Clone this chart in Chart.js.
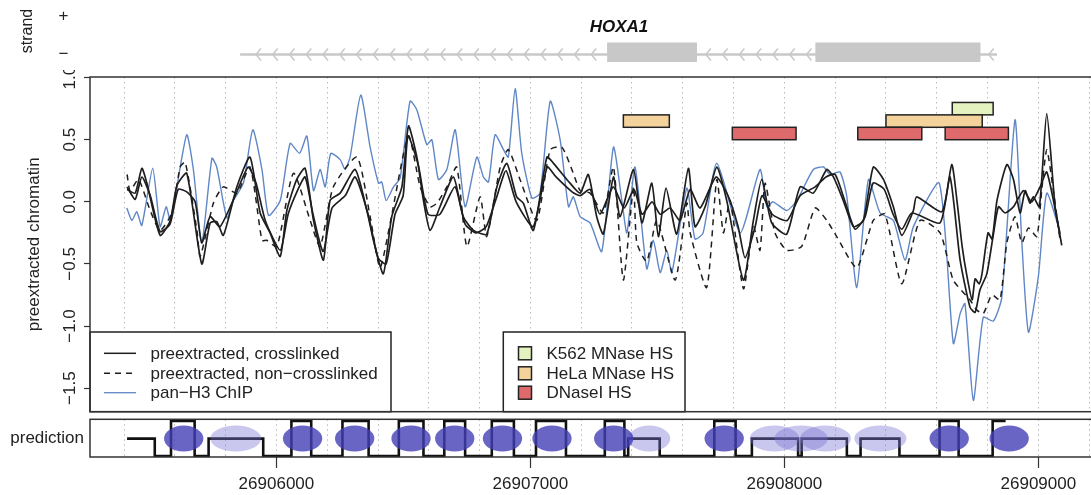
<!DOCTYPE html>
<html>
<head>
<meta charset="utf-8">
<title>HOXA1 preextracted chromatin</title>
<script src="https://cdn.jsdelivr.net/npm/chart.js@4.4.1/dist/chart.umd.min.js"></script>
<style>
  html, body { margin: 0; padding: 0; background: #fff; }
  body { width: 1091px; height: 495px; overflow: hidden; position: relative; }
  canvas { position: absolute; left: 0; }
</style>
</head>
<body>
<canvas id="gene" width="1100" height="77" style="top:0px"></canvas>
<canvas id="main" width="1100" height="350" style="top:70px"></canvas>
<canvas id="pred" width="1100" height="83" style="top:412px"></canvas>
<script>
// ---- genomic window (same for the three panels) ----
const X_MIN = 26905266;
const X_MAX = 26909223;
const AXIS_W = 90;

// ---- gene track ----
const geneStart = 26905857;
const geneEnd = 26908837;
const exonStarts = [26907302, 26908122];
const exonEnds = [26907656, 26908772];
const geneName = 'HOXA1';
const strandTicks = [1, 0];
const strandLabels = ['+', '\u2212'];

// ---- preextracted, crosslinked (two replicates, solid) ----
const xl1Pos = [26905412, 26905444, 26905470, 26905490, 26905542, 26905582, 26905608, 26905647, 26905706, 26905739,
  26905765, 26905791, 26905844, 26905896, 26905936, 26905975, 26906015, 26906041, 26906080, 26906113,
  26906146, 26906185, 26906211, 26906251, 26906310, 26906356, 26906382, 26906421, 26906454, 26906494,
  26906520, 26906553, 26906579, 26906605, 26906644, 26906697, 26906736, 26906776, 26906828, 26906868,
  26906907, 26906946, 26906972, 26907012, 26907065, 26907091, 26907156, 26907196, 26907228, 26907261,
  26907287, 26907327, 26907353, 26907406, 26907439, 26907478, 26907504, 26907534, 26907576, 26907622,
  26907648, 26907688, 26907734, 26907773, 26907839, 26907878, 26907911, 26907950, 26908009, 26908062,
  26908114, 26908167, 26908193, 26908232, 26908272, 26908311, 26908350, 26908390, 26908429, 26908462,
  26908508, 26908521, 26908620, 26908659, 26908680, 26908700, 26908719, 26908739, 26908751, 26908767,
  26908778, 26908802, 26908818, 26908837, 26908876, 26908902, 26908928, 26908948, 26908967, 26908980,
  26909004, 26909033, 26909066, 26909092];
const xl1Val = [0.10, 0.07, 0.27, 0.15, -0.27, -0.15, 0.13, 0.23, -0.50, -0.17,
  -0.16, -0.27, 0.12, 0.36, -0.09, -0.25, -0.44, -0.07, 0.18, 0.27,
  -0.15, -0.47, 0.01, 0.07, 0.26, -0.07, -0.31, -0.58, -0.12, 0.12,
  0.61, 0.36, 0.01, -0.23, -0.04, 0.20, -0.12, -0.23, -0.26, 0.12,
  0.31, 0.04, -0.01, -0.23, 0.36, 0.31, 0.15, 0.07, 0.22, -0.12,
  -0.26, 0.20, -0.12, 0.26, -0.17, 0.15, -0.28, 0.11, -0.26, 0.27,
  -0.20, -0.04, 0.28, 0.01, -0.63, -0.15, 0.18, -0.17, -0.26, 0.12,
  0.07, 0.26, 0.20, 0.01, -0.20, -0.15, 0.28, 0.18, -0.04, -0.27,
  -0.07, 0.04, -0.08, 0.30, 0.00, -0.36, -0.60, -0.79, -0.62, -0.66,
  -0.58, -0.25, -0.30, 0.01, 0.30, 0.18, -0.09, 0.09, -0.01, 0.04,
  -0.04, 0.71, -0.04, -0.35];

const xl2Pos = [26905412, 26905444, 26905470, 26905503, 26905542, 26905581, 26905613, 26905647, 26905680, 26905706,
  26905739, 26905778, 26905844, 26905889, 26905920, 26905956, 26906015, 26906046, 26906085, 26906113,
  26906144, 26906184, 26906219, 26906271, 26906310, 26906361, 26906400, 26906432, 26906467, 26906499,
  26906518, 26906558, 26906597, 26906644, 26906703, 26906743, 26906786, 26906826, 26906869, 26906904,
  26906944, 26907011, 26907066, 26907101, 26907164, 26907196, 26907235, 26907274, 26907326, 26907369,
  26907408, 26907440, 26907479, 26907511, 26907550, 26907589, 26907629, 26907668, 26907731, 26907778,
  26907818, 26907845, 26907885, 26907912, 26907952, 26908011, 26908062, 26908121, 26908164, 26908200,
  26908239, 26908278, 26908318, 26908349, 26908393, 26908428, 26908463, 26908502, 26908613, 26908652,
  26908692, 26908731, 26908751, 26908770, 26908797, 26908823, 26908843, 26908869, 26908902, 26908941,
  26908974, 26909007, 26909033, 26909072, 26909085];
const xl2Val = [0.12, 0.02, 0.20, 0.05, -0.24, -0.18, 0.10, 0.08, 0.00, -0.33,
  -0.12, -0.20, 0.08, 0.28, 0.15, -0.15, -0.39, -0.10, 0.10, 0.20,
  -0.10, -0.40, -0.05, 0.05, 0.20, -0.10, -0.45, -0.50, -0.10, 0.05,
  0.53, 0.30, -0.10, -0.10, 0.12, -0.18, -0.25, -0.20, 0.05, 0.25,
  0.00, -0.20, 0.28, 0.20, 0.08, 0.05, 0.10, -0.10, 0.12, -0.05,
  0.10, -0.10, 0.00, -0.10, -0.05, -0.15, 0.10, -0.05, 0.20, 0.05,
  -0.20, -0.45, -0.20, 0.05, -0.10, -0.15, 0.05, 0.12, 0.20, 0.22,
  0.00, -0.22, -0.12, 0.15, 0.10, -0.10, -0.22, -0.09, -0.17, 0.20,
  -0.47, -0.85, -0.89, -0.71, -0.58, -0.26, -0.04, -0.09, -0.04, 0.09,
  0.00, 0.12, 0.24, -0.12, -0.26];

// ---- preextracted, non-crosslinked (dashed) ----
const ncPos = [26905412, 26905424, 26905457, 26905503, 26905542, 26905588, 26905621, 26905641, 26905687, 26905700,
  26905752, 26905791, 26905844, 26905896, 26905943, 26905962, 26906002, 26906067, 26906133, 26906172,
  26906224, 26906317, 26906369, 26906408, 26906448, 26906520, 26906566, 26906605, 26906632, 26906671,
  26906710, 26906750, 26906802, 26906828, 26906881, 26906913, 26906959, 26907025, 26907078, 26907124,
  26907169, 26907196, 26907235, 26907287, 26907327, 26907366, 26907406, 26907419, 26907458, 26907498,
  26907570, 26907616, 26907629, 26907694, 26907734, 26907760, 26907786, 26907839, 26907878, 26907904,
  26907924, 26907963, 26908009, 26908068, 26908121, 26908167, 26908206, 26908285, 26908350, 26908396,
  26908462, 26908534, 26908613, 26908665, 26908731, 26908757, 26908783, 26908817, 26908849, 26908876,
  26908908, 26908935, 26908961, 26908994, 26909013, 26909033, 26909059, 26909085];
const ncVal = [0.22, 0.09, 0.18, -0.07, -0.23, -0.09, 0.28, 0.32, -0.23, -0.44,
  -0.01, 0.12, 0.07, 0.28, -0.31, -0.31, -0.36, 0.23, -0.15, -0.36,
  0.12, 0.36, -0.12, -0.53, -0.17, 0.53, 0.12, -0.04, -0.01, 0.12,
  0.28, -0.36, 0.04, -0.28, 0.28, 0.42, 0.18, -0.15, 0.42, 0.44,
  0.23, 0.09, 0.07, -0.09, 0.28, -0.63, 0.12, -0.33, -0.48, -0.15,
  -0.63, -0.01, -0.25, -0.69, 0.18, -0.25, 0.01, -0.70, -0.20, -0.39,
  0.15, -0.25, -0.39, -0.36, -0.05, -0.15, -0.28, -0.53, -0.15, -0.10,
  -0.66, -0.15, -0.25, -0.63, -0.79, -0.87, -0.90, -0.75, -0.79, -0.33,
  -0.12, -0.33, -0.21, -0.28, 0.09, 0.42, 0.09, -0.30];

// ---- pan-H3 ChIP (blue) ----
const h3Pos = [26905411, 26905431, 26905450, 26905470, 26905513, 26905542, 26905566, 26905582, 26905608, 26905647,
  26905673, 26905706, 26905746, 26905765, 26905805, 26905831, 26905870, 26905907, 26905943, 26905969,
  26906015, 26906054, 26906091, 26906120, 26906146, 26906172, 26906192, 26906214, 26906251, 26906270,
  26906290, 26906332, 26906369, 26906402, 26906415, 26906432, 26906461, 26906487, 26906526, 26906553,
  26906592, 26906612, 26906638, 26906671, 26906704, 26906743, 26906789, 26906815, 26906835, 26906861,
  26906894, 26906913, 26906940, 26906966, 26907006, 26907038, 26907078, 26907117, 26907150, 26907169,
  26907196, 26907235, 26907281, 26907327, 26907360, 26907380, 26907412, 26907458, 26907484, 26907511,
  26907537, 26907557, 26907616, 26907648, 26907680, 26907734, 26907826, 26907904, 26907931, 26907955,
  26908009, 26908049, 26908114, 26908154, 26908180, 26908219, 26908246, 26908285, 26908331, 26908377,
  26908429, 26908475, 26908508, 26908610, 26908665, 26908692, 26908711, 26908744, 26908783, 26908823,
  26908856, 26908908, 26908935, 26908961, 26909000, 26909033, 26909085];
const h3Val = [-0.05, -0.15, -0.08, -0.19, 0.27, -0.20, -0.04, -0.15, 0.12, 0.54,
  0.26, -0.33, 0.35, 0.28, -0.13, 0.01, 0.15, 0.58, 0.26, -0.11,
  0.01, 0.47, 0.39, 0.53, 0.09, 0.26, 0.12, 0.39, 0.34, 0.26,
  0.36, 0.86, 0.44, 0.15, 0.16, 0.01, 0.12, 0.19, 0.81, 0.74,
  0.46, 0.50, 0.18, 0.26, 0.58, -0.04, 0.36, 0.20, 0.16, 0.54,
  0.42, 0.36, 0.91, 0.39, 0.03, 0.07, 0.81, 0.50, -0.04, 0.04,
  -0.12, -0.17, -0.40, 0.44, 0.01, -0.25, 0.28, -0.54, -0.31, -0.57,
  -0.39, -0.57, 0.11, -0.30, -0.25, 0.31, -0.25, 0.26, -0.04, 0.00,
  -0.07, 0.01, 0.26, 0.28, 0.22, 0.24, 0.04, -0.69, 0.18, -0.09,
  -0.15, -0.47, -0.20, 0.15, -1.14, -0.90, -0.82, -1.60, -0.93, -0.96,
  -0.77, 0.66, -0.33, -1.05, -0.60, 0.07, -0.24];

// ---- hypersensitive sites ----
const hsK562 = [[26908661, 26908822]];
const hsHeLa = [[26907366, 26907547], [26908400, 26908779]];
const hsDNase = [[26907795, 26908046], [26908289, 26908541], [26908633, 26908882]];

// ---- nucleosome prediction (state 0 / 1 fuzzy / 2 positioned) ----
const predPos = [26905412, 26905521, 26905585, 26905678, 26905733, 26905948, 26906059, 26906137, 26906260, 26906363,
  26906482, 26906579, 26906661, 26906743, 26906848, 26906935, 26907022, 26907140, 26907293, 26907370,
  26907385, 26907509, 26907724, 26907808, 26907872, 26908054, 26908068, 26908246, 26908300, 26908453,
  26908611, 26908686, 26908820, 26908871];
const predState = [1, 0, 2, 0, 1, 0, 2, 0, 2, 0,
  2, 0, 2, 0, 2, 0, 2, 0, 2, 0,
  1, 0, 2, 0, 1, 0, 1, 0, 1, 0,
  2, 0, 2, 2];
const nucPos = [26905635, 26906103, 26906308, 26906530, 26906702, 26906890, 26907085, 26907328, 26907763, 26908649, 26908885];
const fuzzyPos = [26905840, 26907468, 26907961, 26908066, 26908162, 26908378];
const fuzzyWidth = [200, 165, 195, 210, 200, 205];
const nucWidth = 155;

// ---- axis ticks ----
const yTicks = [-1.5, -1.0, -0.5, 0.0, 0.5, 1.0];
const xTicks = [26906000, 26907000, 26908000, 26909000];
const gridFrom = 26905400, gridTo = 26909200, gridStep = 200;

// ---------------------------------------------------------------
Chart.defaults.font.family = "'Liberation Sans', Arial, Helvetica, sans-serif";
Chart.defaults.font.size = 17;
Chart.defaults.color = '#222';
Chart.defaults.animation = false;
Chart.defaults.plugins.legend.display = false;
Chart.defaults.plugins.tooltip.enabled = false;

const INK = '#1e1e1e';
const BLUE = '#5f86c6';
const GENE_GREY = '#c8c8c8';
const MINUS = '\u2212';
const FONT = "17px 'Liberation Sans', Arial, sans-serif";

function pts(xs, ys) {
  return xs.map((x, i) => ({ x: x, y: ys[i] }));
}

function fixWidth(s) { s.width = AXIS_W; }

function setTicks(values) {
  return s => { s.ticks = values.map(v => ({ value: v })); };
}

const gridTicks = [];
for (let g = gridFrom; g <= gridTo; g += gridStep) gridTicks.push(g);

function dottedGrid() {
  return {
    type: 'linear', axis: 'x', position: 'bottom', min: X_MIN, max: X_MAX,
    afterBuildTicks: setTicks(gridTicks),
    ticks: { display: false },
    grid: { color: '#b8b8b8', lineWidth: 1, drawTicks: false },
    border: { display: false, dash: [1.5, 3.5] },
    afterFit(s) { s.height = 0; }
  };
}

// ---------------- gene track ----------------
const geneDecor = {
  id: 'geneDecor',
  afterDatasetsDraw(chart) {
    const { ctx, scales: { x, y } } = chart;
    const y0 = y.getPixelForValue(0);
    // chevrons along the introns (minus strand -> pointing left)
    const cuts = [geneStart];
    exonStarts.forEach((s, i) => { cuts.push(s, exonEnds[i]); });
    cuts.push(geneEnd);
    const step = 66;
    ctx.save();
    ctx.strokeStyle = GENE_GREY;
    ctx.lineWidth = 1.5;
    for (let i = 0; i < cuts.length; i += 2) {
      const a = cuts[i], b = cuts[i + 1];
      const len = b - a;
      const n = Math.max(1, Math.floor(len / step));
      const off = (len - (n - 1) * step) / 2;
      for (let k = 0; k < n; k++) {
        const px = x.getPixelForValue(a + off + k * step);
        ctx.beginPath();
        ctx.moveTo(px + 5, y0 - 6);
        ctx.lineTo(px, y0);
        ctx.lineTo(px + 5, y0 + 6);
        ctx.stroke();
      }
    }
    // gene name
    ctx.fillStyle = '#111';
    ctx.font = "italic bold 17px 'Liberation Sans', Arial, sans-serif";
    ctx.textAlign = 'center';
    ctx.textBaseline = 'middle';
    ctx.fillText(geneName, x.getPixelForValue((exonStarts[0] + exonEnds[0]) / 2 - 130), y0 - 27);
    // strand labels
    ctx.font = FONT;
    ctx.fillStyle = '#222';
    strandTicks.forEach((v, i) => {
      ctx.fillText(strandLabels[i], 63.5, y.getPixelForValue(v));
    });
    ctx.restore();
  }
};

const geneSets = [{
  data: [{ x: geneStart, y: 0 }, { x: geneEnd, y: 0 }],
  borderColor: GENE_GREY, borderWidth: 2.5, pointRadius: 0
}];
exonStarts.forEach((s, i) => {
  geneSets.push({
    data: [{ x: s, y: 0 }, { x: exonEnds[i], y: 0 }],
    borderColor: GENE_GREY, borderWidth: 24, borderCapStyle: 'butt', pointRadius: 0
  });
});

new Chart(document.getElementById('gene'), {
  type: 'line',
  data: { datasets: geneSets },
  options: {
    responsive: false,
    devicePixelRatio: 1,
    layout: { padding: { right: 5, bottom: 15 } },
    scales: {
      x: { type: 'linear', min: X_MIN, max: X_MAX, display: false },
      y: {
        type: 'linear', min: -0.1917, max: 1.4145,
        ticks: { display: false },
        grid: { display: false },
        border: { display: false },
        title: { display: true, text: 'strand', font: { size: 16 }, padding: { top: 18.4, bottom: 0 } },
        afterFit: fixWidth
      }
    }
  },
  plugins: [geneDecor]
});

// ---------------- main chromatin panel ----------------
const hsRows = [
  { regions: hsK562, lo: 0.70, hi: 0.80, color: '#e4f2bf', label: 'K562 MNase HS' },
  { regions: hsHeLa, lo: 0.60, hi: 0.70, color: '#f4d29c', label: 'HeLa MNase HS' },
  { regions: hsDNase, lo: 0.50, hi: 0.60, color: '#df6a6c', label: 'DNaseI HS' }
];

const lineLegend = [
  { label: 'preextracted, crosslinked', color: INK, dash: [], width: 1.5 },
  { label: 'preextracted, non' + MINUS + 'crosslinked', color: INK, dash: [6, 5], width: 1.5 },
  { label: 'pan' + MINUS + 'H3 ChIP', color: BLUE, dash: [], width: 1.3 }
];

const mainDecor = {
  id: 'mainDecor',
  beforeDatasetsDraw(chart) {
    const { ctx, scales: { x, y } } = chart;
    ctx.save();
    ctx.strokeStyle = '#222';
    ctx.lineWidth = 1.5;
    hsRows.forEach(row => {
      const top = y.getPixelForValue(row.hi);
      const bot = y.getPixelForValue(row.lo);
      row.regions.forEach(r => {
        const l = x.getPixelForValue(r[0]);
        const rr = x.getPixelForValue(r[1]);
        ctx.fillStyle = row.color;
        ctx.fillRect(l, top, rr - l, bot - top);
        ctx.strokeRect(l, top, rr - l, bot - top);
      });
    });
    ctx.restore();
  },
  afterDatasetsDraw(chart) {
    const { ctx, chartArea: a } = chart;
    ctx.save();
    // legends
    const top = a.bottom - 79.7;
    const rows = [21.3, 41.3, 60.7];
    ctx.lineWidth = 1.5;
    ctx.strokeStyle = '#222';
    ctx.fillStyle = '#fff';
    ctx.fillRect(a.left, top, 391 - a.left, a.bottom - top);
    ctx.strokeRect(a.left, top, 391 - a.left, a.bottom - top);
    ctx.fillRect(503.3, top, 685 - 503.3, a.bottom - top);
    ctx.strokeRect(503.3, top, 685 - 503.3, a.bottom - top);
    ctx.font = FONT;
    ctx.textBaseline = 'middle';
    ctx.textAlign = 'left';
    lineLegend.forEach((it, i) => {
      const yy = top + rows[i];
      ctx.strokeStyle = it.color;
      ctx.lineWidth = it.width;
      ctx.setLineDash(it.dash);
      ctx.beginPath();
      ctx.moveTo(104, yy);
      ctx.lineTo(136, yy);
      ctx.stroke();
      ctx.setLineDash([]);
      ctx.fillStyle = '#222';
      ctx.fillText(it.label, 150.5, yy + 1);
    });
    hsRows.forEach((row, i) => {
      const yy = top + rows[i];
      ctx.fillStyle = row.color;
      ctx.strokeStyle = '#222';
      ctx.lineWidth = 1.5;
      ctx.fillRect(518.5, yy - 6.5, 13, 13);
      ctx.strokeRect(518.5, yy - 6.5, 13, 13);
      ctx.fillStyle = '#222';
      ctx.fillText(row.label, 546.5, yy + 1);
    });
    // frame
    ctx.strokeStyle = '#333';
    ctx.lineWidth = 1.5;
    ctx.strokeRect(a.left, a.top, a.right - a.left, a.bottom - a.top);
    ctx.restore();
  },
  afterDraw(chart) {
    // y tick labels, written along the axis as in base R
    const { ctx, scales: { y } } = chart;
    ctx.save();
    ctx.fillStyle = '#222';
    ctx.font = FONT;
    ctx.textAlign = 'center';
    ctx.textBaseline = 'middle';
    y.ticks.forEach(t => {
      const v = t.value;
      const txt = (v < 0 ? MINUS : '') + Math.abs(v).toFixed(1);
      ctx.save();
      ctx.translate(70.5, y.getPixelForValue(v));
      ctx.rotate(-Math.PI / 2);
      ctx.fillText(txt, 0, 0);
      ctx.restore();
    });
    ctx.restore();
  }
};

const lineStyle = { pointRadius: 0, tension: 0.2 };

new Chart(document.getElementById('main'), {
  type: 'line',
  data: {
    datasets: [
      Object.assign({ label: 'preextracted, crosslinked', data: pts(xl1Pos, xl1Val), borderColor: INK, borderWidth: 1.7 }, lineStyle),
      Object.assign({ label: 'preextracted, crosslinked (2)', data: pts(xl2Pos, xl2Val), borderColor: INK, borderWidth: 1.7 }, lineStyle),
      Object.assign({ label: 'preextracted, non-crosslinked', data: pts(ncPos, ncVal), borderColor: INK, borderWidth: 1.5, borderDash: [6, 5] }, lineStyle),
      Object.assign({ label: 'pan-H3 ChIP', data: pts(h3Pos, h3Val), borderColor: BLUE, borderWidth: 1.4 }, lineStyle)
    ]
  },
  options: {
    responsive: false,
    devicePixelRatio: 1,
    layout: { padding: { top: 7, right: 5, bottom: 8.3 } },
    scales: {
      x: dottedGrid(),
      y: {
        type: 'linear', min: -1.69, max: 1.005,
        afterBuildTicks: setTicks(yTicks),
        ticks: { display: false },
        grid: { drawOnChartArea: false, drawTicks: true, tickLength: 6, color: '#333', tickWidth: 1.2 },
        border: { display: false },
        title: { display: true, text: 'preextracted chromatin', padding: { top: 24.3, bottom: 0 } },
        afterFit: fixWidth
      }
    }
  },
  plugins: [mainDecor]
});

// ---------------- prediction track ----------------
const predDecor = {
  id: 'predDecor',
  afterDatasetsDraw(chart) {
    const { ctx, chartArea: a, scales: { x, y } } = chart;
    const cy = y.getPixelForValue(1);
    const ry = Math.abs(y.getPixelForValue(1.74) - cy);
    ctx.save();
    ctx.fillStyle = 'rgba(120, 115, 210, 0.4)';
    fuzzyPos.forEach((p, i) => {
      const cx = x.getPixelForValue(p);
      const rx = x.getPixelForValue(p + fuzzyWidth[i] / 2) - cx;
      ctx.beginPath();
      ctx.ellipse(cx, cy, rx, ry, 0, 0, Math.PI * 2);
      ctx.fill();
    });
    ctx.fillStyle = 'rgba(68, 62, 182, 0.8)';
    nucPos.forEach(p => {
      const cx = x.getPixelForValue(p);
      const rx = x.getPixelForValue(p + nucWidth / 2) - cx;
      ctx.beginPath();
      ctx.ellipse(cx, cy, rx, ry, 0, 0, Math.PI * 2);
      ctx.fill();
    });
    ctx.strokeStyle = '#333';
    ctx.lineWidth = 1.5;
    ctx.strokeRect(a.left, a.top, a.right - a.left, a.bottom - a.top);
    ctx.fillStyle = '#222';
    ctx.font = FONT;
    ctx.textAlign = 'right';
    ctx.textBaseline = 'middle';
    ctx.fillText('prediction', 84, cy);
    ctx.restore();
  }
};

new Chart(document.getElementById('pred'), {
  type: 'line',
  data: {
    datasets: [{
      label: 'prediction', data: pts(predPos, predState), xAxisID: 'x',
      borderColor: '#111', borderWidth: 2.6, stepped: true, pointRadius: 0
    }]
  },
  options: {
    responsive: false,
    devicePixelRatio: 1,
    layout: { padding: { top: 7.3, right: 5 } },
    scales: {
      xg: dottedGrid(),
      x: {
        type: 'linear', position: 'bottom', min: X_MIN, max: X_MAX,
        afterBuildTicks: setTicks(xTicks),
        ticks: { padding: 6, maxRotation: 0, autoSkip: false, callback: v => String(v) },
        grid: { drawOnChartArea: false, tickLength: 11, color: '#333', tickWidth: 1.2 },
        border: { display: false },
        afterFit(s) { s.height = 38; }
      },
      y: {
        type: 'linear', min: -0.05, max: 2.1,
        ticks: { display: false },
        grid: { display: false },
        border: { display: false },
        afterFit: fixWidth
      }
    }
  },
  plugins: [predDecor]
});
</script>
</body>
</html>
